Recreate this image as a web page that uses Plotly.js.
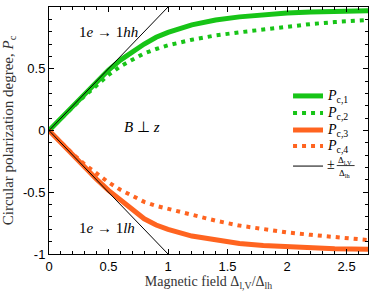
<!DOCTYPE html>
<html>
<head>
<meta charset="utf-8">
<script src="https://cdn.plot.ly/plotly-3.0.1.min.js"></script>
<style>html,body{margin:0;padding:0;background:#fff;}</style>
</head>
<body>
<div id="chart" style="width:374px;height:295px;"></div>
<script>
const xs = [0,0.1,0.2,0.3,0.4,0.5,0.6,0.7,0.8,0.9,1.0,1.2,1.4,1.6,1.8,2.0,2.2,2.4,2.68];
const pc1 = [0,0.1,0.2,0.3,0.4,0.49,0.57,0.64,0.70,0.755,0.795,0.855,0.895,0.92,0.94,0.952,0.96,0.965,0.97];
const pc2 = [0,0.1,0.19,0.28,0.37,0.45,0.52,0.575,0.625,0.66,0.69,0.735,0.77,0.795,0.82,0.845,0.862,0.878,0.895];
const pc3 = [0,-0.1,-0.2,-0.3,-0.395,-0.485,-0.565,-0.635,-0.715,-0.765,-0.8,-0.855,-0.89,-0.915,-0.932,-0.943,-0.951,-0.957,-0.962];
const pc4 = [0,-0.1,-0.19,-0.275,-0.35,-0.42,-0.48,-0.53,-0.578,-0.61,-0.635,-0.685,-0.73,-0.77,-0.80,-0.825,-0.845,-0.865,-0.887];
const lineX = [0,1,null,0,1];
const lineY = [0,1,null,0,-1];
const names = ['<i>P</i><sub>c,1</sub>','<i>P</i><sub>c,2</sub>','<i>P</i><sub>c,3</sub>','<i>P</i><sub>c,4</sub>','±Δ<sub>l,V</sub>/Δ<sub>lh</sub>'];
const xTickVals = [0,0.5,1,1.5,2,2.5];
const xTickText = ['0','0.5','1','1.5','2','2.5'];
const yTickVals = [-1,-0.5,0,0.5,1];
const yTickText = ['-1','-0.5','0','0.5','1'];

const green = '#17c417';
const orange = '#ff6420';
const dotted = '4px,5px';

const styles = [
  {color:green, width:5},
  {color:green, width:4, dash:dotted},
  {color:orange, width:5},
  {color:orange, width:4, dash:dotted},
  {color:'#000', width:1}
];

const traces = [
  {x: xs, y: pc1, name: names[0], mode:'lines', line:styles[0]},
  {x: xs, y: pc2, name: names[1], mode:'lines', line:styles[1]},
  {x: xs, y: pc3, name: names[2], mode:'lines', line:styles[2]},
  {x: xs, y: pc4, name: names[3], mode:'lines', line:styles[3]},
  {x: lineX, y: lineY, name: names[4], mode:'lines', line:styles[4], connectgaps:false}
];

const serif = 'Liberation Serif, Times New Roman, serif';
const sans = 'Liberation Sans, Arial, sans-serif';

const axisCommon = {
  showline:true, linecolor:'#000', linewidth:1, mirror:'allticks',
  ticks:'inside', ticklen:5, tickcolor:'#000', tickwidth:1,
  showgrid:false, zeroline:false,
  tickfont:{family:sans, size:13, color:'#000'},
  minor:{dtick:0.1, ticks:'inside', ticklen:3, tickcolor:'#000', tickwidth:1, showgrid:false}
};

// manual legend (paper coordinates)
const legY = [0.640, 0.571, 0.502, 0.437, 0.356];
const legX0 = 0.765, legX1 = 0.859, legTX = 0.866;
const shapes = [];
const annotations = [
  {x:0.5, y:0.80, xref:'x', yref:'y', text:'1<i>e</i> → 1<i>hh</i>', showarrow:false, font:{family:serif, size:15, color:'#000'}},
  {x:0.78, y:0.03, xref:'x', yref:'y', text:'<i>B</i> ⊥ <i>z</i>', showarrow:false, font:{family:serif, size:15, color:'#000'}},
  {x:0.485, y:-0.79, xref:'x', yref:'y', text:'1<i>e</i> → 1<i>lh</i>', showarrow:false, font:{family:serif, size:15, color:'#000'}}
];
for (let i = 0; i < 5; i++) {
  shapes.push({type:'line', xref:'paper', yref:'paper', x0:legX0, x1:legX1, y0:legY[i], y1:legY[i],
               line:Object.assign({}, styles[i])});
}
for (let i = 0; i < 4; i++) {
  annotations.push({x:legTX, y:legY[i]-0.002, xref:'paper', yref:'paper', xanchor:'left', yanchor:'middle',
    text:names[i], showarrow:false, font:{family:serif, size:14, color:'#000'}});
}
// stacked fraction entry
annotations.push({x:legTX, y:legY[4]+0.006, xref:'paper', yref:'paper', xanchor:'left', yanchor:'middle',
  text:'±', showarrow:false, font:{family:serif, size:14, color:'#000'}});
annotations.push({x:0.929, y:legY[4]+0.024, xref:'paper', yref:'paper', xanchor:'center', yanchor:'middle',
  text:'Δ<sub>l,V</sub>', showarrow:false, font:{family:serif, size:9, color:'#000'}});
annotations.push({x:0.929, y:legY[4]-0.030, xref:'paper', yref:'paper', xanchor:'center', yanchor:'middle',
  text:'Δ<sub>lh</sub>', showarrow:false, font:{family:serif, size:9, color:'#000'}});
shapes.push({type:'line', xref:'paper', yref:'paper', x0:0.902, x1:0.958, y0:legY[4]+0.002, y1:legY[4]+0.002,
  line:{color:'#000', width:0.8}});

const layout = {
  width:374, height:295,
  margin:{l:49, r:6, t:7, b:41},
  paper_bgcolor:'#fff', plot_bgcolor:'#fff',
  showlegend:false,
  xaxis: Object.assign({}, axisCommon, {range:[0,2.68], tickvals:xTickVals, ticktext:xTickText,
    title:{text:'Magnetic field Δ<sub>l,V</sub>/Δ<sub>lh</sub>', font:{family:serif, size:14, color:'#333'}, standoff:3}}),
  yaxis: Object.assign({}, axisCommon, {range:[-1,1], tickvals:yTickVals, ticktext:yTickText,
    title:{text:'Circular polarization degree, <i>P</i><sub>c</sub>', font:{family:serif, size:15, color:'#333'}, standoff:5}}),
  shapes: shapes,
  annotations: annotations
};

Plotly.newPlot('chart', traces, layout, {displayModeBar:false, staticPlot:true});
</script>
</body>
</html>
